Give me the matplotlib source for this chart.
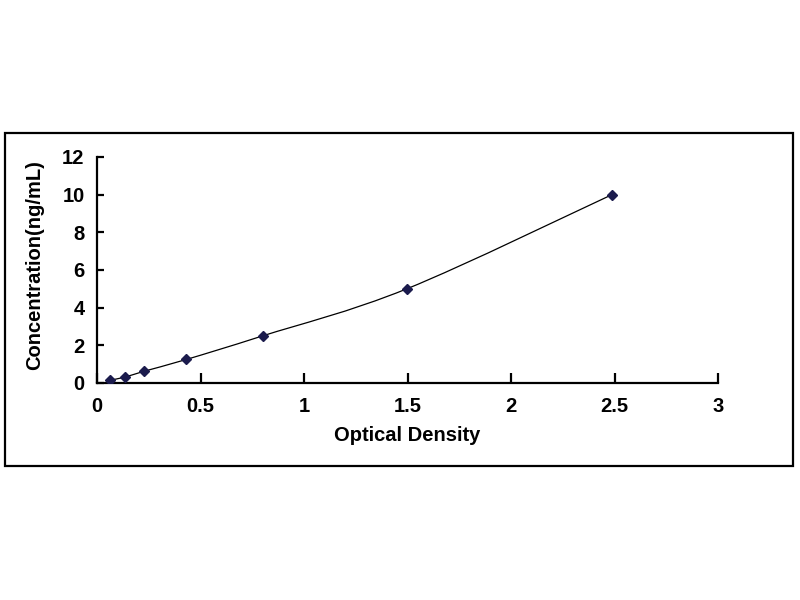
import numpy as np
import matplotlib.pyplot as plt
from matplotlib.path import Path
from matplotlib.patches import PathPatch, Rectangle

# %% standard curve data
od = [0.065, 0.135, 0.228, 0.432, 0.800, 1.497, 2.488]
conc = [0.156, 0.312, 0.625, 1.25, 2.5, 5.0, 10.0]
xticks = [0, 0.5, 1, 1.5, 2, 2.5, 3]
yticks = [0, 2, 4, 6, 8, 10, 12]

plt.rcParams['font.family'] = ['Liberation Sans', 'DejaVu Sans']
plt.rcParams['font.weight'] = 'bold'

fig = plt.figure(figsize=(8, 6), dpi=100)
ax = fig.add_axes([0.12125, 0.3617, 0.77625, 0.3767])

# %% Excel-style smoothed line (Bezier through the points)
x = np.array(od)
y = np.array(conc)
verts = [(x[0], y[0])]
codes = [Path.MOVETO]
n = len(x)
for i in range(n - 1):
    p0 = np.array([x[max(i - 1, 0)], y[max(i - 1, 0)]])
    p1 = np.array([x[i], y[i]])
    p2 = np.array([x[i + 1], y[i + 1]])
    p3 = np.array([x[min(i + 2, n - 1)], y[min(i + 2, n - 1)]])
    c1 = p1 + (p2 - p0) / 6.0
    c2 = p2 - (p3 - p1) / 6.0
    verts += [tuple(c1), tuple(c2), tuple(p2)]
    codes += [Path.CURVE4] * 3
ax.add_patch(PathPatch(Path(verts, codes), facecolor='none', edgecolor='black', lw=0.9, zorder=2))

ax.plot(od, conc, linestyle='none', marker='D', ms=5.5, color='#1b1b4d', zorder=3)

ax.set_xlim(0, 3)
ax.set_ylim(0, 12)
ax.set_xticks(xticks)
ax.set_xticklabels([f'{t:g}' for t in xticks])
ax.set_yticks(yticks)

# spines
ax.spines.right.set_visible(False)
ax.spines.top.set_visible(False)
ax.spines.left.set_linewidth(1.6)
ax.spines.bottom.set_linewidth(1.6)
ax.tick_params(axis='x', direction='in', length=7, width=1.6, pad=10, labelsize=14.5)
ax.tick_params(axis='y', direction='in', length=5, width=1.6, pad=9, labelsize=14.5)

ax.set_xlabel('Optical Density', fontsize=14.5, fontweight='bold', va='center')
ax.set_ylabel('Concentration(ng/mL)', fontsize=14.5, fontweight='bold', va='center')
ax.xaxis.set_label_coords(0.499, -0.2345)
ax.yaxis.set_label_coords(-0.0998, 0.52)

# outer frame
fig.patches.append(Rectangle((0.00625, 0.2233), 0.985, 0.555, transform=fig.transFigure,
                             fill=False, edgecolor='black', lw=1.6))

plt.savefig('out.png', dpi=100)
